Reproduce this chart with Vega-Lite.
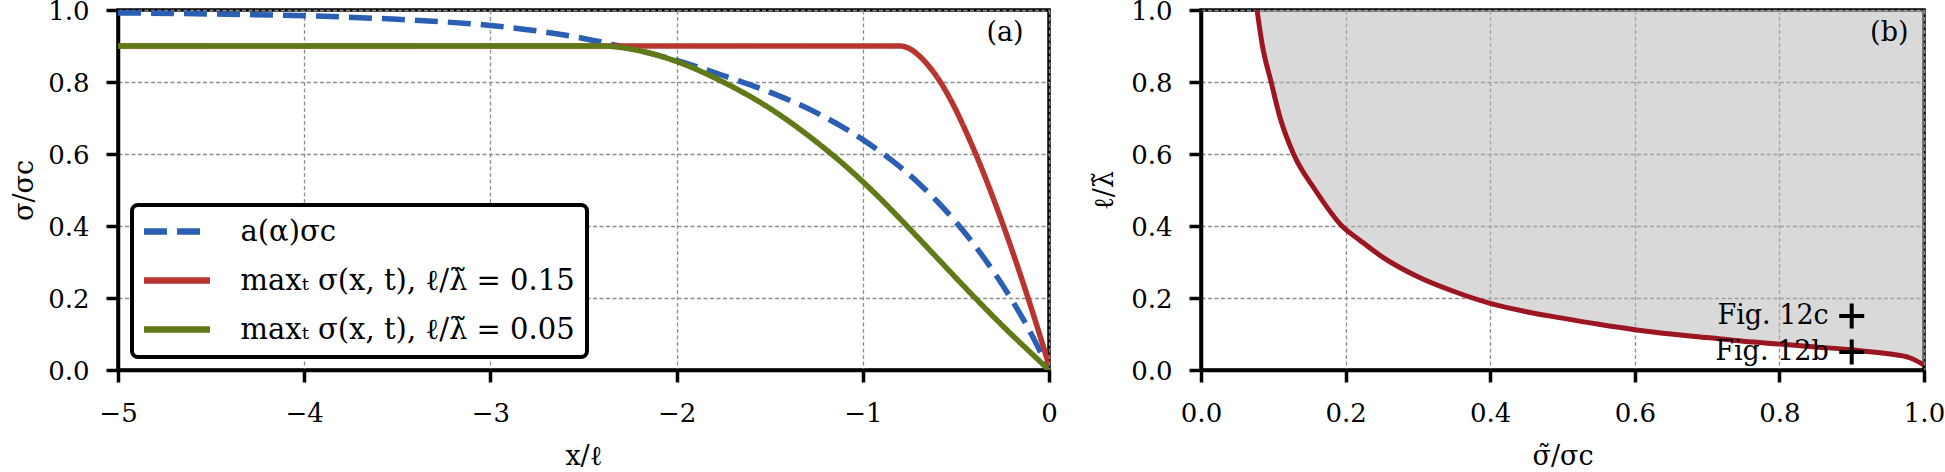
{
  "$schema": "https://vega.github.io/schema/vega-lite/v6.json",
  "autosize": {"type": "none"},
  "padding": {"left": 118, "top": 10, "right": 1827, "bottom": 462},
  "background": "white",
  "config": {
    "font": "DejaVu Serif",
    "view": {"stroke": "black", "strokeWidth": 3.5},
    "axis": {
      "domainColor": "black", "domainWidth": 3.5,
      "tickColor": "black", "tickWidth": 3.5, "tickSize": 12,
      "labelFont": "DejaVu Serif", "labelFontSize": 26, "labelColor": "black", "labelPadding": 17,
      "titleFont": "DejaVu Serif", "titleFontSize": 27, "titleFontWeight": "normal", "titleColor": "black",
      "gridColor": "#8f8f8f", "gridWidth": 1.3, "gridDash": [4, 2.5], "gridOpacity": 1,
      "labelFlush": false, "labelOverlap": false
    }
  },
  "datasets": {
    "lines": [
      {"s": "a", "x": -5, "y": 0.992}, {"s": "a", "x": -4.5, "y": 0.989}, {"s": "a", "x": -4, "y": 0.984},
      {"s": "a", "x": -3.5, "y": 0.974}, {"s": "a", "x": -3, "y": 0.957}, {"s": "a", "x": -2.75, "y": 0.942},
      {"s": "a", "x": -2.5, "y": 0.921}, {"s": "a", "x": -2.25, "y": 0.893}, {"s": "a", "x": -2, "y": 0.86},
      {"s": "a", "x": -1.75, "y": 0.818}, {"s": "a", "x": -1.5, "y": 0.772}, {"s": "a", "x": -1.25, "y": 0.715},
      {"s": "a", "x": -1, "y": 0.64}, {"s": "a", "x": -0.9, "y": 0.604}, {"s": "a", "x": -0.8, "y": 0.564},
      {"s": "a", "x": -0.7, "y": 0.519}, {"s": "a", "x": -0.6, "y": 0.468}, {"s": "a", "x": -0.5, "y": 0.411},
      {"s": "a", "x": -0.4, "y": 0.347}, {"s": "a", "x": -0.3, "y": 0.275}, {"s": "a", "x": -0.2, "y": 0.195},
      {"s": "a", "x": -0.1, "y": 0.105}, {"s": "a", "x": 0, "y": 0.0},
      {"s": "r", "x": -5, "y": 0.9}, {"s": "r", "x": -4, "y": 0.9}, {"s": "r", "x": -3, "y": 0.9},
      {"s": "r", "x": -2, "y": 0.9}, {"s": "r", "x": -1, "y": 0.9}, {"s": "r", "x": -0.8, "y": 0.9},
      {"s": "r", "x": -0.75, "y": 0.893}, {"s": "r", "x": -0.7, "y": 0.874}, {"s": "r", "x": -0.65, "y": 0.847},
      {"s": "r", "x": -0.6, "y": 0.813}, {"s": "r", "x": -0.55, "y": 0.771}, {"s": "r", "x": -0.5, "y": 0.722},
      {"s": "r", "x": -0.45, "y": 0.667}, {"s": "r", "x": -0.4, "y": 0.608}, {"s": "r", "x": -0.35, "y": 0.545},
      {"s": "r", "x": -0.3, "y": 0.478}, {"s": "r", "x": -0.25, "y": 0.408}, {"s": "r", "x": -0.2, "y": 0.335},
      {"s": "r", "x": -0.15, "y": 0.259}, {"s": "r", "x": -0.1, "y": 0.18}, {"s": "r", "x": -0.05, "y": 0.098},
      {"s": "r", "x": 0, "y": 0.013},
      {"s": "g", "x": -5, "y": 0.9}, {"s": "g", "x": -4, "y": 0.9}, {"s": "g", "x": -3, "y": 0.9},
      {"s": "g", "x": -2.4, "y": 0.9}, {"s": "g", "x": -2.3, "y": 0.896}, {"s": "g", "x": -2.2, "y": 0.887},
      {"s": "g", "x": -2.1, "y": 0.874}, {"s": "g", "x": -2, "y": 0.857}, {"s": "g", "x": -1.75, "y": 0.8},
      {"s": "g", "x": -1.5, "y": 0.727}, {"s": "g", "x": -1.25, "y": 0.634}, {"s": "g", "x": -1.1, "y": 0.57},
      {"s": "g", "x": -1, "y": 0.523}, {"s": "g", "x": -0.9, "y": 0.473}, {"s": "g", "x": -0.8, "y": 0.42},
      {"s": "g", "x": -0.7, "y": 0.366}, {"s": "g", "x": -0.6, "y": 0.311}, {"s": "g", "x": -0.5, "y": 0.256},
      {"s": "g", "x": -0.4, "y": 0.202}, {"s": "g", "x": -0.3, "y": 0.149}, {"s": "g", "x": -0.2, "y": 0.098},
      {"s": "g", "x": -0.1, "y": 0.049}, {"s": "g", "x": 0, "y": 0.0}
    ],
    "curve": [
      {"x": 0.0775, "y": 1.0}, {"x": 0.085, "y": 0.9}, {"x": 0.097, "y": 0.8}, {"x": 0.1095, "y": 0.7},
      {"x": 0.128, "y": 0.6}, {"x": 0.158, "y": 0.5}, {"x": 0.195, "y": 0.4}, {"x": 0.22, "y": 0.36},
      {"x": 0.25, "y": 0.315}, {"x": 0.3, "y": 0.259}, {"x": 0.35, "y": 0.218}, {"x": 0.4, "y": 0.185},
      {"x": 0.45, "y": 0.162}, {"x": 0.5, "y": 0.144}, {"x": 0.55, "y": 0.127}, {"x": 0.6, "y": 0.112},
      {"x": 0.65, "y": 0.1}, {"x": 0.7, "y": 0.09}, {"x": 0.75, "y": 0.08}, {"x": 0.8, "y": 0.072},
      {"x": 0.85, "y": 0.064}, {"x": 0.9, "y": 0.056}, {"x": 0.95, "y": 0.045}, {"x": 0.98, "y": 0.034},
      {"x": 1.0, "y": 0.014}
    ],
    "markers": [
      {"x": 0.9, "y": 0.15, "label": "Fig. 12c"},
      {"x": 0.9, "y": 0.05, "label": "Fig. 12b"}
    ],
    "tagA": [{"x": -0.236, "y": 0.936, "label": "(a)"}],
    "tagB": [{"x": 0.952, "y": 0.936, "label": "(b)"}]
  },
  "spacing": 152,
  "bounds": "flush",
  "hconcat": [
    {
      "width": 931,
      "height": 360,
      "layer": [
        {
          "data": {"name": "lines"},
          "mark": {"type": "line", "strokeWidth": 5.5, "clip": true, "interpolate": "monotone"},
          "encoding": {
            "x": {"field": "x", "type": "quantitative",
              "scale": {"domain": [-5, 0], "nice": false, "zero": false},
              "axis": {"values": [-5, -4, -3, -2, -1, 0], "format": "d", "title": "x/ℓ", "titlePadding": 17, "labelPadding": 18}},
            "y": {"field": "y", "type": "quantitative",
              "scale": {"domain": [0, 1], "nice": false},
              "axis": {"values": [0, 0.2, 0.4, 0.6, 0.8, 1.0], "format": ".1f", "title": "σ/σc", "titlePadding": 9, "labelOffset": 1.5}},
            "color": {"field": "s", "type": "nominal",
              "scale": {"domain": ["a", "r", "g"], "range": ["#2b5fb3", "#b8352f", "#617a18"]},
              "legend": {
                "orient": "none", "legendX": 14, "legendY": 195, "title": null,
                "labelExpr": "datum.value == 'a' ? 'a(α)σc' : (datum.value == 'r' ? 'maxₜ σ(x, t), ℓ/λ̃ = 0.15' : 'maxₜ σ(x, t), ℓ/λ̃ = 0.05')",
                "symbolType": "M-3,0H3", "symbolSize": 484, "symbolStrokeWidth": 6.5, "symbolOffset": 18.5,
                "labelFont": "DejaVu Serif", "labelFontSize": 29, "labelColor": "black", "labelLimit": 600,
                "labelOffset": 49, "rowPadding": 19, "padding": 12,
                "strokeColor": "black", "fillColor": "white", "cornerRadius": 6,
                "encode": {"legend": {"update": {"strokeWidth": {"value": 4}}}}
              }},
            "strokeDash": {"field": "s", "type": "nominal",
              "scale": {"domain": ["a", "r", "g"], "range": [[23, 10], [1, 0], [1, 0]]}}
          }
        },
        {
          "data": {"name": "tagA"},
          "mark": {"type": "text", "fontSize": 27, "font": "DejaVu Serif", "color": "black", "align": "center", "baseline": "middle"},
          "encoding": {
            "x": {"field": "x", "type": "quantitative"},
            "y": {"field": "y", "type": "quantitative"},
            "text": {"field": "label"}
          }
        }
      ]
    },
    {
      "width": 723,
      "height": 360,
      "layer": [
        {
          "data": {"name": "curve"},
          "mark": {"type": "area", "color": "#b3b3b3", "opacity": 0.5, "interpolate": "monotone"},
          "encoding": {
            "x": {"field": "x", "type": "quantitative",
              "scale": {"domain": [0, 1], "nice": false},
              "axis": {"values": [0, 0.2, 0.4, 0.6, 0.8, 1.0], "format": ".1f", "title": "σ̃/σc", "titlePadding": 17, "labelPadding": 18}},
            "y": {"field": "y", "type": "quantitative",
              "scale": {"domain": [0, 1], "nice": false},
              "axis": {"values": [0, 0.2, 0.4, 0.6, 0.8, 1.0], "format": ".1f", "title": "ℓ/λ̃", "titlePadding": 12, "labelOffset": 1.5}},
            "y2": {"datum": 1}
          }
        },
        {
          "data": {"name": "curve"},
          "mark": {"type": "line", "color": "#9c1622", "strokeWidth": 5, "clip": true, "interpolate": "monotone"},
          "encoding": {
            "x": {"field": "x", "type": "quantitative"},
            "y": {"field": "y", "type": "quantitative"}
          }
        },
        {
          "data": {"name": "markers"},
          "mark": {"type": "point", "shape": "M-0.16,-1H0.16V-0.16H1V0.16H0.16V1H-0.16V0.16H-1V-0.16H-0.16Z", "filled": true, "color": "black", "opacity": 1, "size": 625},
          "encoding": {
            "x": {"field": "x", "type": "quantitative"},
            "y": {"field": "y", "type": "quantitative"}
          }
        },
        {
          "data": {"name": "markers"},
          "mark": {"type": "text", "fontSize": 27, "font": "DejaVu Serif", "color": "black", "align": "right", "baseline": "middle", "dx": -23},
          "encoding": {
            "x": {"field": "x", "type": "quantitative"},
            "y": {"field": "y", "type": "quantitative"},
            "text": {"field": "label"}
          }
        },
        {
          "data": {"name": "tagB"},
          "mark": {"type": "text", "fontSize": 27, "font": "DejaVu Serif", "color": "black", "align": "center", "baseline": "middle"},
          "encoding": {
            "x": {"field": "x", "type": "quantitative"},
            "y": {"field": "y", "type": "quantitative"},
            "text": {"field": "label"}
          }
        }
      ]
    }
  ]
}
